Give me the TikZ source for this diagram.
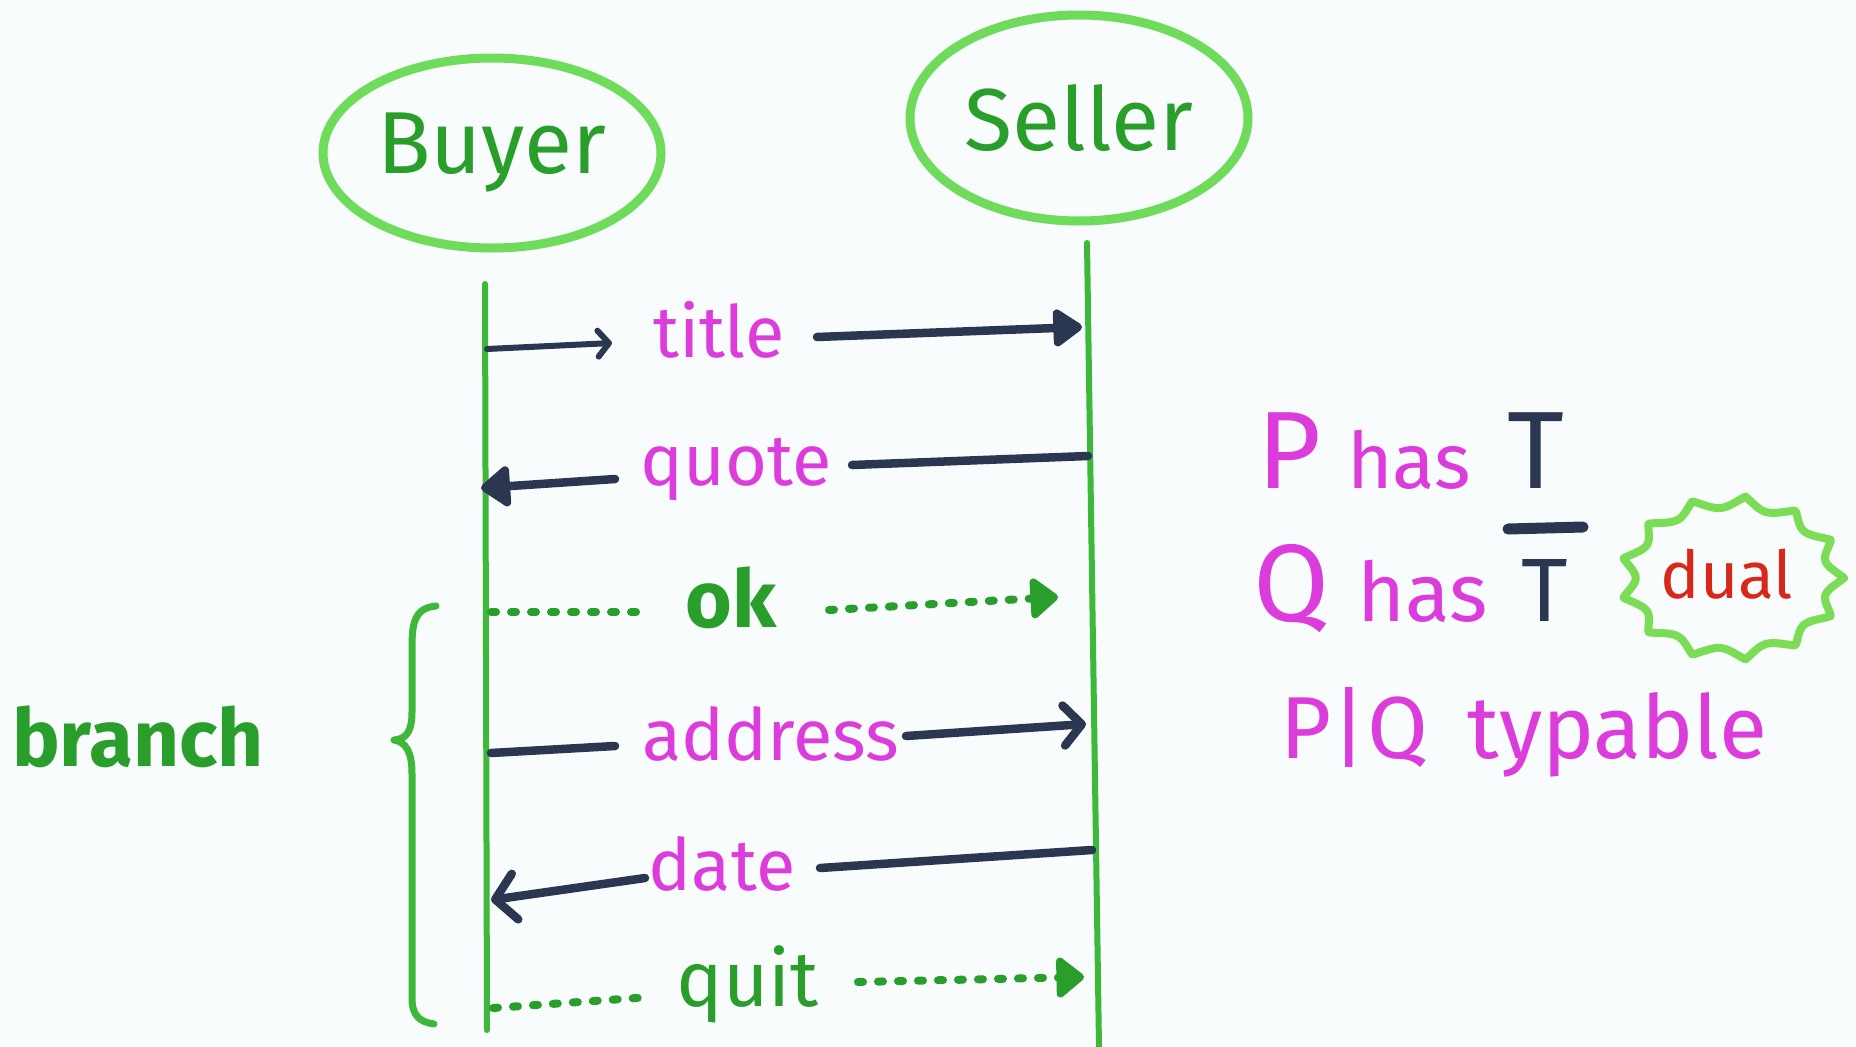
\documentclass[tikz,border=0pt]{standalone}
\usepackage{fontspec}
\setmainfont{Fira Sans}
\usetikzlibrary{arrows.meta,shapes.geometric}
\definecolor{bg}{HTML}{F8FCFC}
\definecolor{elgreen}{HTML}{6EDC5A}
\definecolor{lifegreen}{HTML}{3DB83A}
\definecolor{txtgreen}{HTML}{2A9E2A}
\definecolor{mag}{HTML}{DC3CDC}
\definecolor{navy}{HTML}{2B3650}
\definecolor{redd}{HTML}{D8281A}
\definecolor{burstgreen}{HTML}{7ADD55}
\begin{document}
\begin{tikzpicture}[x=1pt,y=-1pt,
  actor/.style={ellipse, draw=elgreen, line width=9pt, inner sep=0pt, text=txtgreen,
    font=\fontsize{88}{88}\selectfont},
  life/.style={draw=lifegreen, line width=6pt, line cap=round},
  lbl/.style={anchor=base, inner sep=0pt, text=mag, font=\fontsize{72}{72}\selectfont},
  glbl/.style={anchor=base, inner sep=0pt, text=txtgreen, font=\fontsize{78}{78}\selectfont},
  rtxt/.style={anchor=base, inner sep=0pt, text=mag},
  msg/.style={draw=navy, line width=8.5pt, line cap=round},
  dotmsg/.style={draw=txtgreen, line width=8pt, line cap=round, dash pattern=on 5pt off 15pt},
  filltip/.style={-{Triangle[length=32pt,width=42pt,round]}},
  filltipL/.style={{Triangle[length=32pt,width=46pt,round]}-},
  opentip/.style={-{Straight Barb[length=18pt,width=40pt,line cap=round,line join=round]}},
  opentipL/.style={{Straight Barb[length=20pt,width=46pt,line cap=round,line join=round]}-},
  smalltip/.style={-{Straight Barb[length=11pt,width=26pt,line cap=round,line join=round]}},
  greentip/.style={-{Triangle[length=30pt,width=46pt,round]}},
  brace/.style={draw=lifegreen, line width=7pt, line cap=round, line join=round},
  burst/.style={draw=burstgreen, line width=8pt, line join=round}
]
\useasboundingbox (0,0) rectangle (1856,1047);
\fill[bg] (0,0) rectangle (1856,1047);

% actors
\node[actor, minimum width=338pt, minimum height=190pt] (buyer) at (492,153) {Buyer};
\node[actor, minimum width=338pt, minimum height=206pt] (seller) at (1079,118) {Seller};

% lifelines
\coordinate (bTop) at (485,284);
\coordinate (bBot) at (487,1030);
\coordinate (sTop) at (1087,243);
\coordinate (sBot) at (1099,1047);
\draw[life] (bTop) -- (bBot);
\draw[life] (sTop) -- (sBot);

% title
\node[lbl] (ltitle) at (719,357) {title};
\coordinate (m1a) at (487,349);
\coordinate (m1b) at (612,343);
\coordinate (m1c) at (817,337);
\coordinate (m1d) at (1082,327);
\draw[msg, line width=6pt, smalltip] (m1a) -- (m1b);
\draw[msg, filltip] (m1c) -- (m1d);

% quote
\node[lbl] (lquote) at (736,485) {quote};
\coordinate (m2a) at (1088,456);
\coordinate (m2b) at (852,465);
\coordinate (m2c) at (615,479);
\coordinate (m2d) at (481,488);
\draw[msg] (m2a) -- (m2b);
\draw[msg, filltipL] (m2d) -- (m2c);

% ok
\node[glbl, font=\fontsize{80}{80}\selectfont\bfseries] (lok) at (731,627) {ok};
\coordinate (m3a) at (491,612);
\coordinate (m3b) at (639,612);
\coordinate (m3c) at (829,610);
\coordinate (m3d) at (1058,597);
\draw[dotmsg] (m3a) -- (m3b);
\draw[dotmsg, greentip] (m3c) -- (m3d);

% address
\node[lbl] (laddress) at (771,760) {address};
\coordinate (m4a) at (491,753);
\coordinate (m4b) at (615,746);
\coordinate (m4c) at (906,736);
\coordinate (m4d) at (1086,724);
\draw[msg] (m4a) -- (m4b);
\draw[msg, opentip] (m4c) -- (m4d);

% date
\node[lbl] (ldate) at (722,890) {date};
\coordinate (m5a) at (1092,850);
\coordinate (m5b) at (820,868);
\coordinate (m5c) at (645,878);
\coordinate (m5d) at (491,900);
\draw[msg] (m5a) -- (m5b);
\draw[msg, opentipL] (m5d) -- (m5c);

% quit
\node[glbl] (lquit) at (748,1006) {quit};
\coordinate (m6a) at (493,1008);
\coordinate (m6b) at (651,997);
\coordinate (m6c) at (858,982);
\coordinate (m6d) at (1084,977);
\draw[dotmsg] (m6a) -- (m6b);
\draw[dotmsg, greentip] (m6c) -- (m6d);

% branch brace
\node[glbl, font=\fontsize{80}{80}\selectfont\bfseries] (lbranch) at (138,766) {branch};
\draw[brace] (436,606) .. controls (414,608) and (412,624) .. (412,648)
  -- (412,712) .. controls (412,732) and (406,739) .. (394,740)
  .. controls (406,742) and (412,752) .. (412,774)
  -- (412,998) .. controls (412,1016) and (420,1022) .. (434,1024);

% right block
\node[rtxt, font=\fontsize{110}{110}\selectfont] (p1) at (1289,488) {P};
\node[rtxt, font=\fontsize{78}{78}\selectfont] (has1) at (1409,488) {has};
\node[rtxt, text=navy, font=\fontsize{110}{110}\selectfont] (t1) at (1536,488) {T};
\node[rtxt, font=\fontsize{110}{110}\selectfont] (q2) at (1291,621) {Q};
\node[rtxt, font=\fontsize{82}{82}\selectfont] (has2) at (1423,621) {has};
\node[rtxt, text=navy, font=\fontsize{90}{90}\selectfont] (t2) at (1545,621) {T};
\draw[navy, line width=11pt, line cap=round] (1508,529) -- (1583,527);
\node[anchor=base, inner sep=0pt, text=redd, font=\fontsize{66}{66}\selectfont] (dual) at (1727,598) {dual};
\draw[burst] plot[domain=0:360, samples=400, variable=\a]
  ({1732+112*(0.86+0.14*(1-abs(sin(6.5*\a))))*cos(\a)},
   {578+82*(0.86+0.14*(1-abs(sin(6.5*\a))))*sin(\a)}) -- cycle;
\node[rtxt, font=\fontsize{88}{88}\selectfont] (pq) at (1524,758) {P|Q\hspace{0.45em}typable};
\end{tikzpicture}
\end{document}
